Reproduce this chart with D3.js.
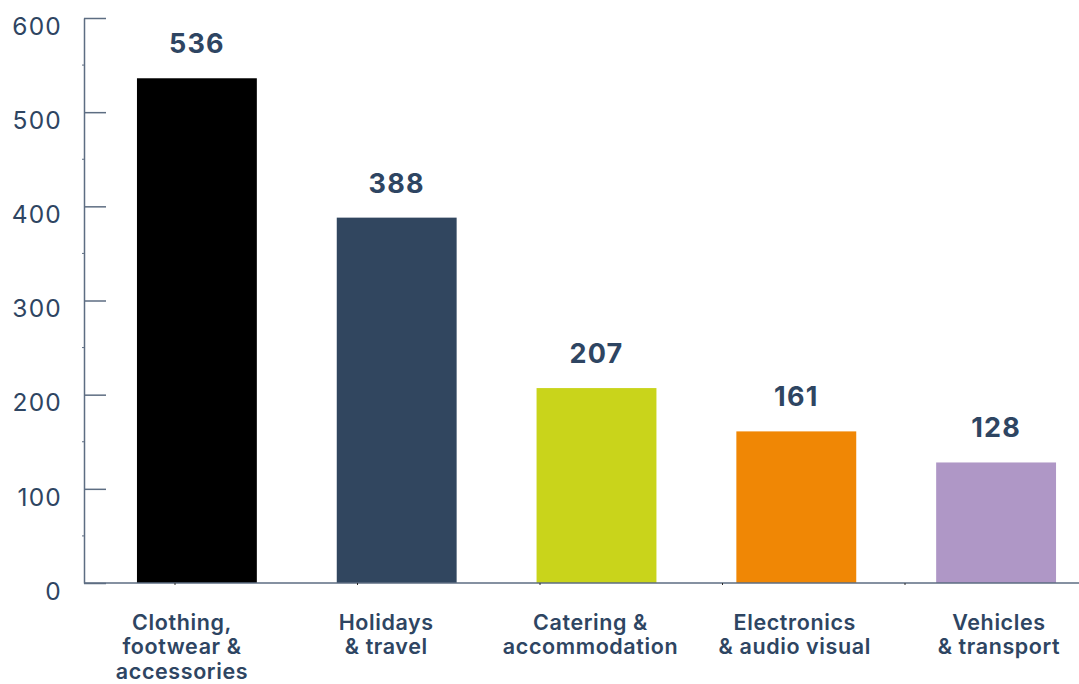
<!DOCTYPE html>
<html>
<head>
<meta charset="utf-8">
<script src="https://cdn.jsdelivr.net/npm/d3@7"></script>
<style>
  html, body { margin: 0; padding: 0; background: #ffffff; }
  svg { display: block; }
</style>
</head>
<body>
<svg id="chart" width="1079" height="684"></svg>
<script>
// Spending by category
const categories = [
  ["Clothing,", "footwear &", "accessories"],
  ["Holidays", "& travel"],
  ["Catering &", "accommodation"],
  ["Electronics", "& audio visual"],
  ["Vehicles", "& transport"]
];
const values = [536, 388, 207, 161, 128];
const barColors = ["#000000", "#31465f", "#c9d41b", "#f08705", "#af97c6"];
const yTicks = [0, 100, 200, 300, 400, 500, 600];
const yMinorTicks = [50, 150, 250, 350, 450, 550];

const W = 1079, H = 684;
const textColor = "#2e4562";
const axisColor = "#5d6d82";
const font = "Inter, 'Noto Sans', sans-serif";

const svg = d3.select("#chart");
const keys = categories.map((c, i) => i);

const y = d3.scaleLinear().domain([0, 600]).range([583, 18]);
const x = d3.scaleBand().domain(keys).range([97, 1096]).paddingInner(0.4).paddingOuter(0.2);
const xLabel = d3.scalePoint().domain(keys).range([182, 999]);
const xTick = d3.scalePoint().domain(keys).range([175, 905]);

// bars
svg.append("g").selectAll("rect")
  .data(values)
  .join("rect")
  .attr("x", (d, i) => x(i))
  .attr("y", d => y(d))
  .attr("width", x.bandwidth())
  .attr("height", d => y(0) - y(d))
  .attr("fill", (d, i) => barColors[i]);

// value labels
svg.append("g").selectAll("text")
  .data(values)
  .join("text")
  .attr("x", (d, i) => x(i) + x.bandwidth() / 2)
  .attr("y", d => y(d) - 25)
  .attr("text-anchor", "middle")
  .attr("font-family", font)
  .attr("font-weight", 700)
  .attr("font-size", 27)
  .attr("letter-spacing", 1.2)
  .attr("fill", textColor)
  .text(d => d);

// baseline
svg.append("line")
  .attr("x1", 84).attr("x2", W)
  .attr("y1", y(0)).attr("y2", y(0))
  .attr("stroke", axisColor).attr("stroke-width", 1.5);

// small marks under the baseline
svg.append("g").selectAll("line")
  .data(keys)
  .join("line")
  .attr("x1", d => xTick(d)).attr("x2", d => xTick(d))
  .attr("y1", y(0)).attr("y2", y(0) + 2)
  .attr("stroke", "#2a2a2a").attr("stroke-width", 1);

// y axis
const yAxis = d3.axisLeft(y)
  .tickValues(yTicks)
  .tickSizeInner(-22)
  .tickSizeOuter(0)
  .tickPadding(22);

const gy = svg.append("g")
  .attr("transform", "translate(84,0)")
  .call(yAxis);
gy.select(".domain").attr("stroke", axisColor).attr("stroke-width", 1.5);
gy.selectAll(".tick line").attr("stroke", axisColor).attr("stroke-width", 1.5);
gy.selectAll(".tick text")
  .attr("font-family", font)
  .attr("font-size", 24.5)
  .attr("letter-spacing", 1.2)
  .attr("fill", textColor)
  .attr("dy", "0.66em");

// minor ticks
svg.append("g").selectAll("line")
  .data(yMinorTicks)
  .join("line")
  .attr("x1", 82).attr("x2", 84)
  .attr("y1", d => y(d)).attr("y2", d => y(d))
  .attr("stroke", axisColor).attr("stroke-width", 1);

// category labels
const lab = svg.append("g").selectAll("text")
  .data(categories)
  .join("text")
  .attr("x", (d, i) => xLabel(i))
  .attr("y", 630)
  .attr("text-anchor", "middle")
  .attr("font-family", font)
  .attr("font-weight", 600)
  .attr("font-size", 21.5)
  .attr("letter-spacing", 0.6)
  .attr("fill", textColor);

lab.selectAll("tspan")
  .data(d => d)
  .join("tspan")
  .attr("x", function () { return d3.select(this.parentNode).attr("x"); })
  .attr("dy", (d, i) => i === 0 ? 0 : 24.3)
  .text(d => d);
</script>
</body>
</html>
